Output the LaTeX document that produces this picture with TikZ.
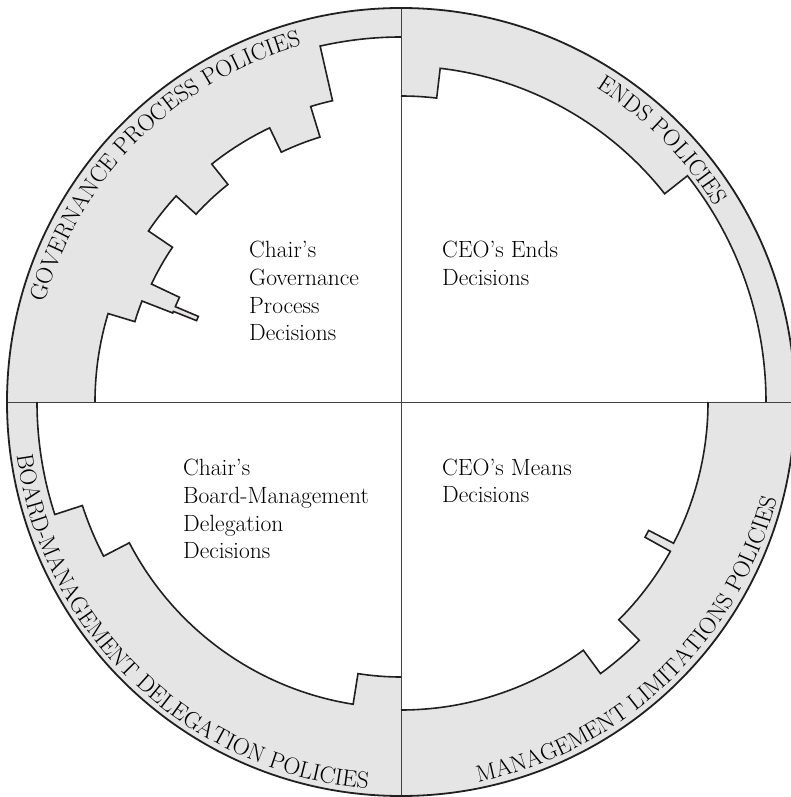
\documentclass[tikz,border=0pt]{standalone}
\usepackage{tikz}
\usetikzlibrary{decorations.text}

\definecolor{bandgray}{RGB}{229,229,229}
\definecolor{rimblack}{RGB}{35,31,32}

\newcommand\ringfont{\fontsize{23.5}{26}\selectfont}

% stepped inner edges of the four policy bands (from the upper axis clockwise)
\newcommand\goaledge{-- (90:306) arc[start angle=90,end angle=83.3,radius=306]
  -- (83.3:336) arc[start angle=83.3,end angle=38.3,radius=336]
  -- (38.3:365) arc[start angle=38.3,end angle=0,radius=365]}
\newcommand\govedge{-- (180:306) arc[start angle=180,end angle=163.2,radius=306]
  -- (163.2:278) arc[start angle=163.2,end angle=158.7,radius=278]
  -- (158.7:245) arc[start angle=158.7,end angle=158.3,radius=245]
  -- (158.3:220) -- (157.1:220) -- (157.1:245) arc[start angle=157.1,end angle=154.7,radius=245]
  -- (154.7:276) arc[start angle=154.7,end angle=145.9,radius=276]
  -- (145.9:305) arc[start angle=145.9,end angle=137.5,radius=305]
  -- (137.5:278) arc[start angle=137.5,end angle=128.5,radius=278]
  -- (128.5:304) arc[start angle=128.5,end angle=115.6,radius=304]
  -- (115.6:277) arc[start angle=115.6,end angle=107,radius=277]
  -- (107:309) arc[start angle=107,end angle=102.8,radius=309]
  -- (102.8:365) arc[start angle=102.8,end angle=90,radius=365]}
\newcommand\boardedge{-- (270:275) arc[start angle=270,end angle=261,radius=275]
  -- (261:306) arc[start angle=261,end angle=207.4,radius=306]
  -- (207.4:335) arc[start angle=207.4,end angle=198,radius=335]
  -- (198:364) arc[start angle=198,end angle=180,radius=364]}
\newcommand\limitsedge{-- (360:307) arc[start angle=360,end angle=332.6,radius=307]
  -- (332.6:279) -- (331:279) -- (331:308) arc[start angle=331,end angle=315,radius=308]
  -- (315:337) arc[start angle=315,end angle=306.3,radius=337]
  -- (306.3:308) arc[start angle=306.3,end angle=270,radius=308]}

\begin{document}
\begin{tikzpicture}[x=1pt,y=1pt,
  band/.style={fill=bandgray},
  rim/.style={line width=1.8pt,draw=rimblack},
  edge/.style={line width=1.6pt,draw=rimblack,line join=miter},
  axis/.style={line width=0.7pt,draw=rimblack!85},
  ringtext/.style={decorate,decoration={text along path,text align=center,text={|\ringfont|#1}}},
  decision/.style={anchor=base west,align=left,inner sep=0pt,font=\fontsize{23.5}{27.7}\selectfont}]
  \useasboundingbox (-401,-395) rectangle (390,402);
  % grey bands
  \fill[band] (0:394) arc[start angle=0,end angle=90,radius=394] \goaledge -- cycle;
  \fill[band] (90:394) arc[start angle=90,end angle=180,radius=394] \govedge -- cycle;
  \fill[band] (180:394) arc[start angle=180,end angle=270,radius=394] \boardedge -- cycle;
  \fill[band] (270:394) arc[start angle=270,end angle=360,radius=394] \limitsedge -- cycle;
  % axes
  \coordinate (top) at (90:394); \coordinate (bottom) at (270:394);
  \coordinate (left) at (180:394); \coordinate (right) at (0:394);
  \draw[axis] (top) -- (bottom);
  \draw[axis] (left) -- (right);
  % outlines
  \draw[edge] (90:306) \goaledge;
  \draw[edge] (180:306) \govedge;
  \draw[edge] (270:275) \boardedge;
  \draw[edge] (360:307) \limitsedge;
  \draw[rim] (right) arc[start angle=0,end angle=360,radius=394];
  % band titles
  \path[ringtext={GOVERNANCE PROCESS POLICIES}] (175:370) arc[start angle=175,end angle=95,radius=370];
  \path[ringtext={ENDS POLICIES}] (85:370) arc[start angle=85,end angle=5,radius=370];
  \path[ringtext={BOARD-MANAGEMENT DELEGATION POLICIES}] (182:388) arc[start angle=182,end angle=271,radius=388];
  \path[ringtext={MANAGEMENT LIMITATIONS POLICIES}] (269:388) arc[start angle=269,end angle=358,radius=388];
  % quadrant texts (anchored at the last line)
  \node[decision] (govtext) at (-152,61.2) {Chair's\\Governance\\Process\\Decisions};
  \node[decision] (endstext) at (41,116.3) {CEO's Ends\\Decisions};
  \node[decision] (boardtext) at (-218,-156.8) {Chair's\\Board-Management\\Delegation\\Decisions};
  \node[decision] (meanstext) at (41,-100.7) {CEO's Means\\Decisions};
\end{tikzpicture}
\end{document}
